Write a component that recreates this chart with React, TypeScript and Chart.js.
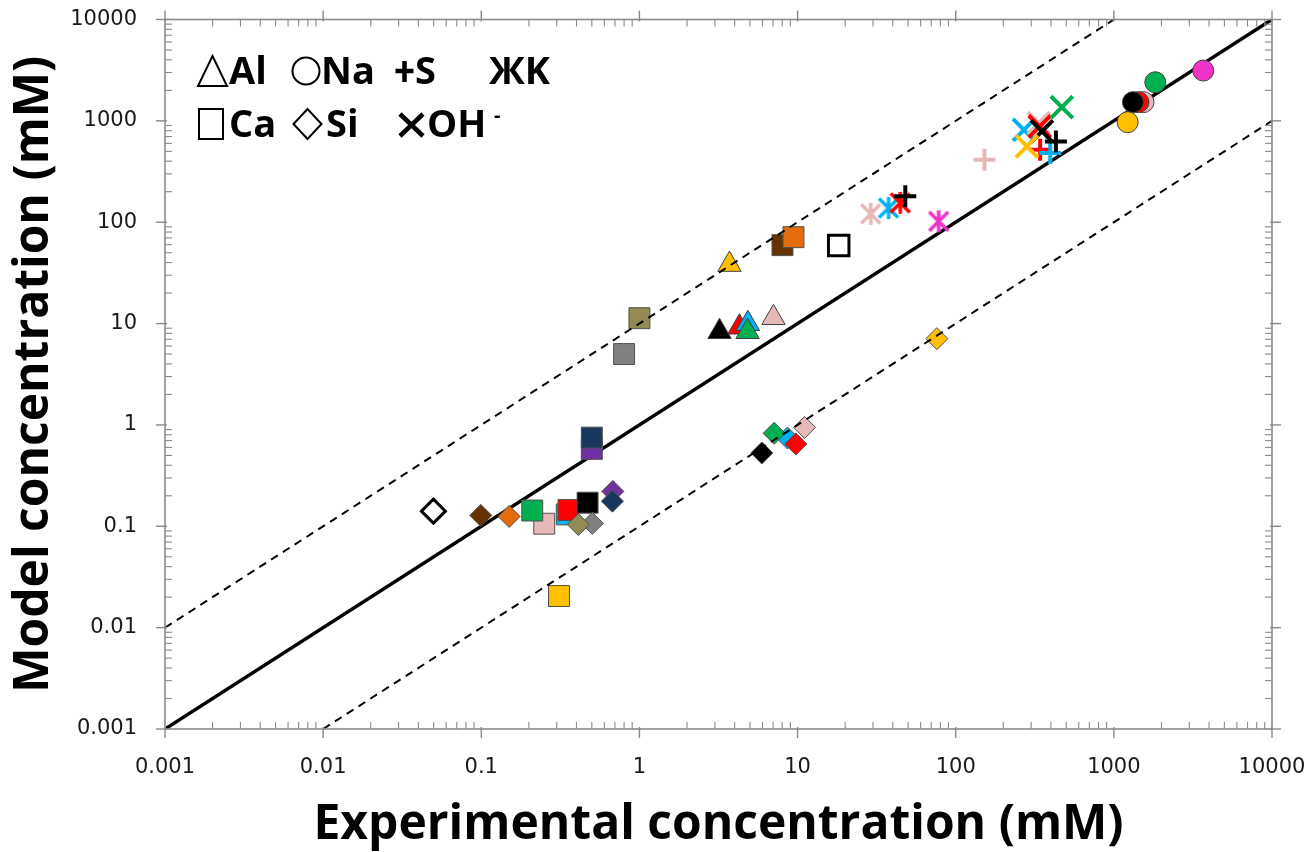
import React, { useEffect, useRef } from 'react';
import { Chart, registerables } from 'chart.js';

Chart.register(...registerables);

// ---------- colours ----------
const BLACK = '#000000';
const RED = '#FF0000';
const BLUE = '#00B0F0';
const GREEN = '#00B050';
const PINK = '#E6B9B8';
const YELLOW = '#FFC000';
const MAGENTA = '#F032C8';
const BROWN = '#663300';
const ORANGE = '#E46C0A';
const OLIVE = '#948A54';
const GRAY = '#808080';
const NAVY = '#17375E';
const PURPLE = '#7030A0';
const WHITE = '#FFFFFF';

// ---------- axis ticks ----------
const tickValues = [0.001, 0.01, 0.1, 1, 10, 100, 1000, 10000];
const tickLabels = ['0.001', '0.01', '0.1', '1', '10', '100', '1000', '10000'];

// ---------- reference lines: y = x, y = 10x, y = x/10 ----------
const parityX = [0.001, 10000];
const parityY = [0.001, 10000];
const upperX = [0.001, 1000];
const upperY = [0.01, 10000];
const lowerX = [0.01, 10000];
const lowerY = [0.001, 1000];

// ---------- Ca (squares) ----------
const caX = [0.5, 0.5, 0.25, 0.21, 0.347, 0.356, 0.47, 0.31, 0.8, 1.0, 8.03, 9.42];
const caY = [0.58, 0.75, 0.106, 0.143, 0.131, 0.145, 0.171, 0.0205, 5.0, 11.3, 59.4, 71.2];
const caColors = [PURPLE, NAVY, PINK, GREEN, BLUE, RED, BLACK, YELLOW, GRAY, OLIVE, BROWN, ORANGE];
const caOpenX = [18.2];
const caOpenY = [59];

// ---------- Si (diamonds) ----------
const siX = [0.0993, 0.15, 0.504, 0.411, 0.679, 0.675, 76, 11.07, 8.63, 7.11, 9.75, 5.94];
const siY = [0.128, 0.125, 0.107, 0.104, 0.221, 0.177, 7.1, 0.945, 0.743, 0.826, 0.649, 0.529];
const siColors = [BROWN, ORANGE, GRAY, OLIVE, PURPLE, NAVY, YELLOW, PINK, BLUE, GREEN, RED, BLACK];
const siOpenX = [0.0498];
const siOpenY = [0.141];

// ---------- Al (triangles) ----------
const alX = [3.21, 4.29, 4.85, 4.83, 7.04, 3.71];
const alY = [8.3, 9.2, 9.96, 8.3, 11.4, 38.2];
const alColors = [BLACK, RED, BLUE, GREEN, PINK, YELLOW];

// ---------- Na (circles) ----------
const naX = [1540, 1430, 1320, 1222, 1828, 3675];
const naY = [1530, 1530, 1530, 971, 2404, 3135];
const naColors = [PINK, RED, BLACK, YELLOW, GREEN, MAGENTA];

// ---------- K (Ж asterisks) ----------
const kX = [29, 37.6, 44.6, 78];
const kY = [121, 138, 155, 102];
const kColors = [PINK, BLUE, RED, MAGENTA];

// ---------- S (plus) ----------
const sX = [152, 342, 396, 430, 48];
const sY = [414, 520, 481, 625, 180];
const sColors = [PINK, RED, BLUE, BLACK, BLACK];

// ---------- OH- (x) ----------
const ohX = [270, 335, 340, 351, 282, 469];
const ohY = [815, 950, 880, 787, 560, 1364];
const ohColors = [BLUE, PINK, RED, BLACK, YELLOW, GREEN];

const AXIS_COLOR = '#8a8a8a';

const pts = (xs: number[], ys: number[]) => xs.map((x, i) => ({ x, y: ys[i] }));

function makeK(color: string) {
  const c = document.createElement('canvas');
  c.width = 26;
  c.height = 26;
  const g = c.getContext('2d')!;
  g.strokeStyle = color;
  g.lineWidth = 3.5;
  g.beginPath();
  g.moveTo(13, 2);
  g.lineTo(13, 24);
  g.moveTo(3.5, 3.5);
  g.lineTo(22.5, 22.5);
  g.moveTo(22.5, 3.5);
  g.lineTo(3.5, 22.5);
  g.stroke();
  return c;
}

const framePlugin = {
  id: 'frameTicks',
  afterDraw(chart: any) {
    const { ctx, chartArea: a } = chart;
    const xs = chart.scales.x;
    const ys = chart.scales.y;
    ctx.save();
    ctx.strokeStyle = AXIS_COLOR;
    ctx.lineWidth = 1.6;
    ctx.strokeRect(a.left, a.top, a.right - a.left, a.bottom - a.top);
    const seg = (x1: number, y1: number, x2: number, y2: number) => {
      ctx.beginPath();
      ctx.moveTo(x1, y1);
      ctx.lineTo(x2, y2);
      ctx.stroke();
    };
    ctx.lineWidth = 1.4;
    tickValues.forEach((v) => {
      const px = xs.getPixelForValue(v);
      const py = ys.getPixelForValue(v);
      seg(px, a.bottom - 2, px, a.bottom + 9);
      seg(px, a.top + 2, px, a.top - 9);
      seg(a.left - 9, py, a.left + 2, py);
      seg(a.right - 2, py, a.right + 9, py);
    });
    ctx.lineWidth = 1.1;
    tickValues.slice(0, -1).forEach((d) => {
      for (let k = 2; k <= 9; k++) {
        const v = d * k;
        const px = xs.getPixelForValue(v);
        const py = ys.getPixelForValue(v);
        seg(px, a.bottom, px, a.bottom - 7);
        seg(px, a.top, px, a.top + 7);
        seg(a.left, py, a.left + 7, py);
        seg(a.right, py, a.right - 7, py);
      }
    });
    ctx.restore();
  },
};

const legendPlugin = {
  id: 'symbolLegend',
  afterDraw(chart: any) {
    const ctx = chart.ctx;
    ctx.save();
    ctx.strokeStyle = BLACK;
    ctx.fillStyle = BLACK;
    ctx.lineWidth = 2;
    // triangle
    ctx.beginPath();
    ctx.moveTo(212.5, 56);
    ctx.lineTo(227, 86);
    ctx.lineTo(198, 86);
    ctx.closePath();
    ctx.stroke();
    // circle
    ctx.beginPath();
    ctx.arc(306, 71, 13.5, 0, Math.PI * 2);
    ctx.stroke();
    // square
    ctx.strokeRect(199, 109, 24, 30);
    // diamond
    ctx.beginPath();
    ctx.moveTo(307.5, 109);
    ctx.lineTo(321.5, 124);
    ctx.lineTo(307.5, 139);
    ctx.lineTo(293.5, 124);
    ctx.closePath();
    ctx.stroke();
    // plus
    ctx.lineWidth = 4.5;
    ctx.beginPath();
    ctx.moveTo(395.5, 71);
    ctx.lineTo(413.5, 71);
    ctx.moveTo(404.5, 61);
    ctx.lineTo(404.5, 82);
    ctx.stroke();
    // times
    ctx.lineWidth = 4.5;
    ctx.beginPath();
    ctx.moveTo(400, 114);
    ctx.lineTo(423, 136);
    ctx.moveTo(423, 114);
    ctx.lineTo(400, 136);
    ctx.stroke();

    ctx.font = '700 38px "Open Sans"';
    ctx.textAlign = 'left';
    ctx.textBaseline = 'alphabetic';
    ctx.fillText('Al', 229, 84);
    ctx.fillText('Na', 321, 84);
    ctx.fillText('S', 415, 84);
    ctx.fillText('ЖK', 489, 84);
    ctx.fillText('Ca', 229, 137);
    ctx.fillText('Si', 326, 137);
    ctx.fillText('OH', 427, 137);
    ctx.font = '700 20px "Open Sans"';
    ctx.fillText('-', 494, 122);
    ctx.restore();
  },
};

export default function App() {
  const ref = useRef<HTMLCanvasElement | null>(null);

  useEffect(() => {
    document.body.style.margin = '0';
    const canvas = ref.current!;
    const kStyles = kColors.map((c) => makeK(c));

    const lineDs = (xs: number[], ys: number[], width: number, dash: number[], order: number) => ({
      data: pts(xs, ys),
      showLine: true,
      borderColor: BLACK,
      borderWidth: width,
      borderDash: dash,
      pointRadius: 0,
      pointHoverRadius: 0,
      fill: false,
      order,
    });

    const chart = new Chart(canvas, {
      type: 'scatter',
      data: {
        datasets: [
          lineDs(upperX, upperY, 2, [8, 6], 0),
          lineDs(lowerX, lowerY, 2, [8, 6], 1),
          {
            label: 'OH-',
            data: pts(ohX, ohY),
            pointStyle: 'crossRot',
            pointRadius: 15.5,
            pointBorderWidth: 4,
            pointBorderColor: ohColors,
            pointBackgroundColor: ohColors,
            order: 30,
          },
          {
            label: 'S',
            data: pts(sX, sY),
            pointStyle: 'cross',
            pointRadius: 11,
            pointBorderWidth: 4,
            pointBorderColor: sColors,
            pointBackgroundColor: sColors,
            order: 40,
          },
          {
            label: 'K',
            data: pts(kX, kY),
            pointStyle: kStyles,
            pointRadius: 11,
            order: 50,
          },
          {
            label: 'Na',
            data: pts(naX, naY),
            pointStyle: 'circle',
            pointRadius: 10.5,
            pointBorderWidth: 1,
            pointBorderColor: '#404040',
            pointBackgroundColor: naColors,
            order: 60,
          },
          {
            label: 'Al',
            data: pts(alX, alY),
            pointStyle: 'triangle',
            pointRadius: 13.5,
            pointBorderWidth: 1,
            pointBorderColor: '#404040',
            pointBackgroundColor: alColors,
            order: 70,
          },
          {
            label: 'Si open',
            data: pts(siOpenX, siOpenY),
            pointStyle: 'rectRot',
            pointRadius: 12,
            pointBorderWidth: 3,
            pointBorderColor: BLACK,
            pointBackgroundColor: WHITE,
            order: 75,
          },
          {
            label: 'Si',
            data: pts(siX, siY),
            pointStyle: 'rectRot',
            pointRadius: 11,
            pointBorderWidth: 1,
            pointBorderColor: '#505050',
            pointBackgroundColor: siColors,
            order: 80,
          },
          {
            label: 'Ca open',
            data: pts(caOpenX, caOpenY),
            pointStyle: 'rect',
            pointRadius: 14.5,
            pointBorderWidth: 3,
            pointBorderColor: BLACK,
            pointBackgroundColor: WHITE,
            order: 85,
          },
          {
            label: 'Ca',
            data: pts(caX, caY),
            pointStyle: 'rect',
            pointRadius: 14.8,
            pointBorderWidth: 1,
            pointBorderColor: '#505050',
            pointBackgroundColor: caColors,
            order: 90,
          },
          lineDs(parityX, parityY, 3.5, [], 100),
        ] as any,
      },
      options: {
        responsive: false,
        animation: false,
        events: [],
        layout: { padding: { top: 18, right: 38, left: 0, bottom: 0 } },
        plugins: {
          legend: { display: false },
          tooltip: { enabled: false },
        },
        scales: {
          x: {
            type: 'logarithmic',
            position: 'bottom',
            min: 0.001,
            max: 10000,
            grid: { display: false, drawTicks: false },
            border: { display: false },
            afterBuildTicks: (s: any) => {
              s.ticks = tickValues.map((v) => ({ value: v }));
            },
            afterFit: (s: any) => {
              s.height = 123;
              s.paddingLeft = 0;
              s.paddingRight = 0;
            },
            ticks: {
              autoSkip: false,
              maxRotation: 0,
              minRotation: 0,
              padding: 26,
              color: '#1a1a1a',
              font: { family: '"DejaVu Sans"', size: 21 },
              callback: (_v: any, i: number) => tickLabels[i],
            },
            title: {
              display: true,
              text: 'Experimental concentration (mM)',
              color: BLACK,
              font: { family: '"Open Sans"', size: 48, weight: 'bold', lineHeight: 1 },
              padding: { top: 0, bottom: 2.5 },
            },
          },
          y: {
            type: 'logarithmic',
            position: 'left',
            min: 0.001,
            max: 10000,
            grid: { display: false, drawTicks: false },
            border: { display: false },
            afterBuildTicks: (s: any) => {
              s.ticks = tickValues.map((v) => ({ value: v }));
            },
            afterFit: (s: any) => {
              s.width = 165;
              s.paddingTop = 0;
              s.paddingBottom = 0;
            },
            ticks: {
              autoSkip: false,
              padding: 28,
              color: '#1a1a1a',
              font: { family: '"DejaVu Sans"', size: 21 },
              callback: (_v: any, i: number) => tickLabels[i],
            },
            title: {
              display: true,
              text: 'Model concentration (mM)',
              color: BLACK,
              font: { family: '"Open Sans"', size: 48, weight: 'bold', lineHeight: 1 },
              padding: { top: 10, bottom: 0 },
            },
          },
        },
      } as any,
      plugins: [framePlugin, legendPlugin],
    });

    return () => chart.destroy();
  }, []);

  return (
    <div style={{ width: 1310, height: 852, position: 'relative', background: '#fff' }}>
      <canvas ref={ref} width={1310} height={852} style={{ display: 'block', width: 1310, height: 852 }} />
    </div>
  );
}
